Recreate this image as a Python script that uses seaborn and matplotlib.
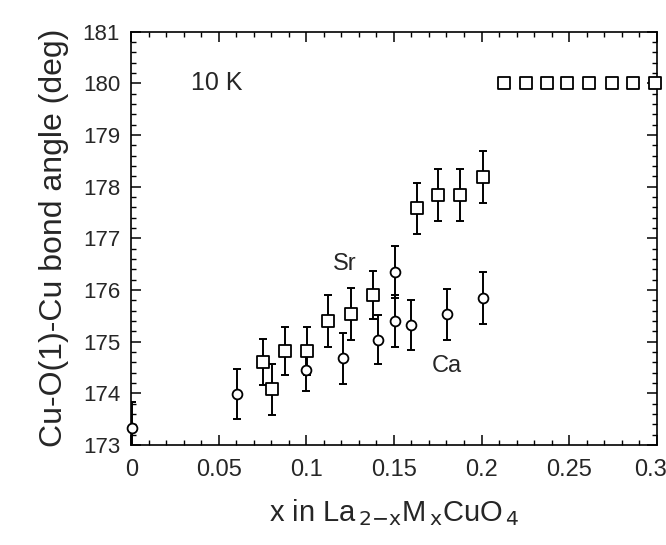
import matplotlib
matplotlib.use("Agg")
import matplotlib.pyplot as plt
import matplotlib.transforms as mtransforms
import seaborn as sns
import pandas as pd
from matplotlib.ticker import MultipleLocator, FuncFormatter

# ---- data ----
sr_x = [0.0755, 0.0806, 0.0878, 0.1006, 0.1125, 0.1255, 0.1382, 0.1630, 0.1753, 0.1877, 0.2006]
sr_y = [174.61, 174.08, 174.82, 174.82, 175.40, 175.53, 175.90, 177.58, 177.84, 177.84, 178.19]
sr_err = [0.45, 0.49, 0.47, 0.46, 0.50, 0.50, 0.47, 0.49, 0.50, 0.50, 0.50]

sr_hi_x = [0.2128, 0.2253, 0.2373, 0.2487, 0.2613, 0.2744, 0.2863, 0.2989]
sr_hi_y = [180.0, 180.0, 180.0, 180.0, 180.0, 180.0, 180.0, 180.0]

ca_x = [0.0004, 0.0603, 0.0998, 0.1208, 0.1407, 0.1506, 0.1506, 0.1600, 0.1805, 0.2006]
ca_y = [173.33, 173.99, 174.45, 174.68, 175.04, 176.35, 175.40, 175.32, 175.53, 175.84]
ca_err = [0.50, 0.48, 0.40, 0.49, 0.48, 0.50, 0.50, 0.49, 0.49, 0.50]

x_ticks = [0, 0.05, 0.1, 0.15, 0.2, 0.25, 0.3]
y_ticks = [173, 174, 175, 176, 177, 178, 179, 180, 181]

sns.set_theme(style="ticks")
plt.rcParams['font.family'] = ['Liberation Sans', 'DejaVu Sans']

fig = plt.figure(figsize=(6.66, 5.45), dpi=100)
ax = fig.add_axes([0.197, 0.1835, 0.789, 0.7585])

sr_df = pd.DataFrame({"x": sr_x + sr_hi_x, "y": sr_y + sr_hi_y, "M": "Sr"})
ca_df = pd.DataFrame({"x": ca_x, "y": ca_y, "M": "Ca"})
df = pd.concat([sr_df, ca_df], ignore_index=True)

# error bars
ax.errorbar(sr_x, sr_y, yerr=sr_err, fmt='none', ecolor='black',
            elinewidth=1.4, capsize=3, capthick=1.4, zorder=2)
ax.errorbar(ca_x, ca_y, yerr=ca_err, fmt='none', ecolor='black',
            elinewidth=1.4, capsize=3, capthick=1.4, zorder=2)

# markers
sq = df[df.M == "Sr"]
ci = df[df.M == "Ca"]
sns.scatterplot(data=sq, x="x", y="y", marker="s", s=70, facecolor="white",
                edgecolor="black", linewidth=1.3, ax=ax, zorder=3, clip_on=False)
sns.scatterplot(data=ci, x="x", y="y", marker="o", s=50, facecolor="white",
                edgecolor="black", linewidth=1.3, ax=ax, zorder=3, clip_on=False)

ax.set_xlim(0, 0.3)
ax.set_ylim(173, 181)
ax.set_xticks(x_ticks)
ax.set_yticks(y_ticks)
ax.xaxis.set_minor_locator(MultipleLocator(0.01))
ax.yaxis.set_minor_locator(MultipleLocator(0.2))
ax.xaxis.set_major_formatter(FuncFormatter(lambda v, p: f"{v:g}"))
ax.yaxis.set_major_formatter(FuncFormatter(lambda v, p: f"{v:g}"))

ax.tick_params(which='both', direction='in', top=True, right=True, color='black')
ax.tick_params(which='major', length=7, width=1.1)
ax.tick_params(which='minor', length=3.5, width=1.0)
ax.tick_params(axis='x', which='major', labelsize=17, pad=10)
ax.tick_params(axis='y', which='major', labelsize=16, pad=8)
for s in ax.spines.values():
    s.set_color('black')
    s.set_linewidth(1.2)

# keep the last x tick label inside the figure
fig.canvas.draw()
last = ax.get_xticklabels()[-1]
last.set_transform(last.get_transform() +
                   mtransforms.ScaledTranslation(-6 / 100, 0, fig.dpi_scale_trans))

ax.set_xlabel(r"x in La$_{\,2\mathrm{-x}}$M$_{\,\mathrm{x}}$CuO$_{\,4}$", fontsize=21, labelpad=12)
ax.set_ylabel("Cu-O(1)-Cu bond angle (deg)", fontsize=23, labelpad=10)

ax.text(0.049, 180.0, "10 K", fontsize=18, ha='center', va='center')
ax.text(0.122, 176.5, "Sr", fontsize=17, ha='center', va='center')
ax.text(0.180, 174.53, "Ca", fontsize=17, ha='center', va='center')

fig.savefig("out.png", dpi=100)
